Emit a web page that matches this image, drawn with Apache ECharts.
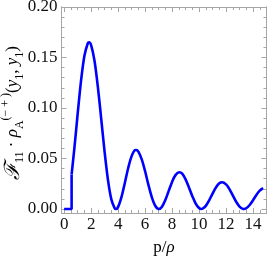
<!DOCTYPE html>
<html>
<head>
<meta charset="utf-8">
<script src="https://cdn.jsdelivr.net/npm/echarts@6/dist/echarts.min.js"></script>
<style>html,body{margin:0;padding:0;background:#fff;}#c{width:267px;height:257px;}</style>
</head>
<body>
<div id="c"></div>
<script>
// step part (zero until threshold, then jump)
const stepX = [0, 0.55, 0.55];
const stepY = [0, 0, 0.0342];
// main curve
const curveX = [0.55,0.75,1,1.25,1.5,1.75,1.84,2,2.25,2.5,2.75,3,3.25,3.5,3.75,3.83,4,4.25,4.5,4.75,5,5.25,5.33,5.5,5.75,6,6.25,6.5,6.75,7.02,7.25,7.5,7.75,8,8.25,8.54,8.75,9,9.25,9.5,9.75,10,10.17,10.25,10.5,10.75,11,11.25,11.5,11.71,12,12.25,12.5,12.75,13,13.25,13.32,13.5,13.75,14,14.25,14.5,14.75,14.8];
const curveY = [0.0342,0.0595,0.0944,0.1271,0.1517,0.1641,0.1651,0.1621,0.1466,0.1205,0.0885,0.0561,0.0283,0.0092,0.0005,0,0.0021,0.0119,0.0260,0.0408,0.0523,0.0583,0.0584,0.0568,0.0491,0.0373,0.0236,0.0115,0.0032,0,0.0023,0.0089,0.0179,0.0268,0.0335,0.0364,0.0350,0.0293,0.0213,0.0127,0.0053,0.0009,0,0.0002,0.0030,0.0086,0.0152,0.0213,0.0254,0.0264,0.0243,0.0197,0.0134,0.0071,0.0024,0.0001,0,0.0007,0.0039,0.0087,0.0139,0.0181,0.0206,0.0207];
// ticks
const xMajor = [0,2,4,6,8,10,12,14];
const xMinor = [0.5,1,1.5,2.5,3,3.5,4.5,5,5.5,6.5,7,7.5,8.5,9,9.5,10.5,11,11.5,12.5,13,13.5,14.5];
const yMajor = [0,0.05,0.10,0.15,0.20];
const yMinor = [0.01,0.02,0.03,0.04,0.06,0.07,0.08,0.09,0.11,0.12,0.13,0.14,0.16,0.17,0.18,0.19];

const X_MIN = -0.2, X_MAX = 15.0, Y_MIN = -0.004, Y_MAX = 0.2;
const FRAME = '#a6a6a6';
const FONT = 'Liberation Serif';

function xAx(pos, ticks, len, labels) {
  return {
    type: 'value', min: X_MIN, max: X_MAX, position: pos,
    axisLine: { show: true, onZero: false, lineStyle: { color: FRAME, width: 1 } },
    axisTick: { show: true, inside: true, length: len, customValues: ticks, lineStyle: { color: FRAME, width: 1 } },
    axisLabel: labels ? { show: true, customValues: ticks, margin: 3, color: '#111', fontFamily: FONT, fontSize: 17, formatter: v => String(v) } : { show: false },
    splitLine: { show: false }, minorTick: { show: false }
  };
}
function yAx(pos, ticks, len, labels) {
  return {
    type: 'value', min: Y_MIN, max: Y_MAX, position: pos,
    axisLine: { show: true, onZero: false, lineStyle: { color: FRAME, width: 1 } },
    axisTick: { show: true, inside: true, length: len, customValues: ticks, lineStyle: { color: FRAME, width: 1 } },
    axisLabel: labels ? { show: true, customValues: ticks, margin: 4, color: '#111', fontFamily: FONT, fontSize: 17, formatter: v => v.toFixed(2) } : { show: false },
    splitLine: { show: false }, minorTick: { show: false }
  };
}

const chart = echarts.init(document.getElementById('c'), null, { renderer: 'canvas' });
const nStyle = { fontFamily: FONT, fontSize: 17, lineHeight: 26, color: '#111' };
const iStyle = { fontFamily: FONT, fontSize: 17, lineHeight: 26, fontStyle: 'italic', color: '#111' };
const sStyle = { fontFamily: FONT, fontSize: 12, lineHeight: 12, verticalAlign: 'bottom', color: '#111' };
const pStyle = { fontFamily: FONT, fontSize: 12, lineHeight: 12, verticalAlign: 'top', color: '#111' };
const fStyle = { fontFamily: FONT, fontSize: 21, lineHeight: 26, fontStyle: 'italic', color: '#111' };

chart.setOption({
  animation: false,
  grid: { left: 61.5, right: 0.5, top: 7, bottom: 44, containLabel: false, outerBoundsMode: 'none' },
  xAxis: [
    xAx('bottom', xMajor, 5, true),
    xAx('bottom', xMinor, 3, false),
    xAx('top', xMajor, 5, false),
    xAx('top', xMinor, 3, false)
  ],
  yAxis: [
    yAx('left', yMajor, 5, true),
    yAx('left', yMinor, 3, false),
    yAx('right', yMajor, 5, false),
    yAx('right', yMinor, 3, false)
  ],
  series: [
    {
      type: 'line', xAxisIndex: 0, yAxisIndex: 0, showSymbol: false, smooth: false,
      data: stepX.map((x, i) => [x, stepY[i]]),
      lineStyle: { color: '#0000ff', width: 2.6 }, itemStyle: { color: '#0000ff' }
    },
    {
      type: 'line', xAxisIndex: 0, yAxisIndex: 0, showSymbol: false, smooth: 0.3,
      data: curveX.map((x, i) => [x, curveY[i]]),
      lineStyle: { color: '#0000ff', width: 2.6 }, itemStyle: { color: '#0000ff' }
    }
  ],
  graphic: [
    {
      type: 'text', x: 13, y: 113, rotation: Math.PI / 2,
      style: {
        text: '{F|ℱ}{s|11}{n| · }{i|ρ}{s|A}{p|(− + )}{n|(}{i|y}{s|1}{n|, }{i|y}{s|1}{n|)}',
        rich: { n: nStyle, i: iStyle, s: sStyle, p: pStyle, F: fStyle },
        align: 'center', verticalAlign: 'middle', textAlign: 'center', textVerticalAlign: 'middle'
      }
    },
    {
      type: 'text', x: 164, y: 248,
      style: {
        text: '{n|p/}{i|ρ}',
        rich: { n: nStyle, i: iStyle },
        align: 'center', verticalAlign: 'middle', textAlign: 'center', textVerticalAlign: 'middle'
      }
    }
  ]
});
</script>
</body>
</html>
